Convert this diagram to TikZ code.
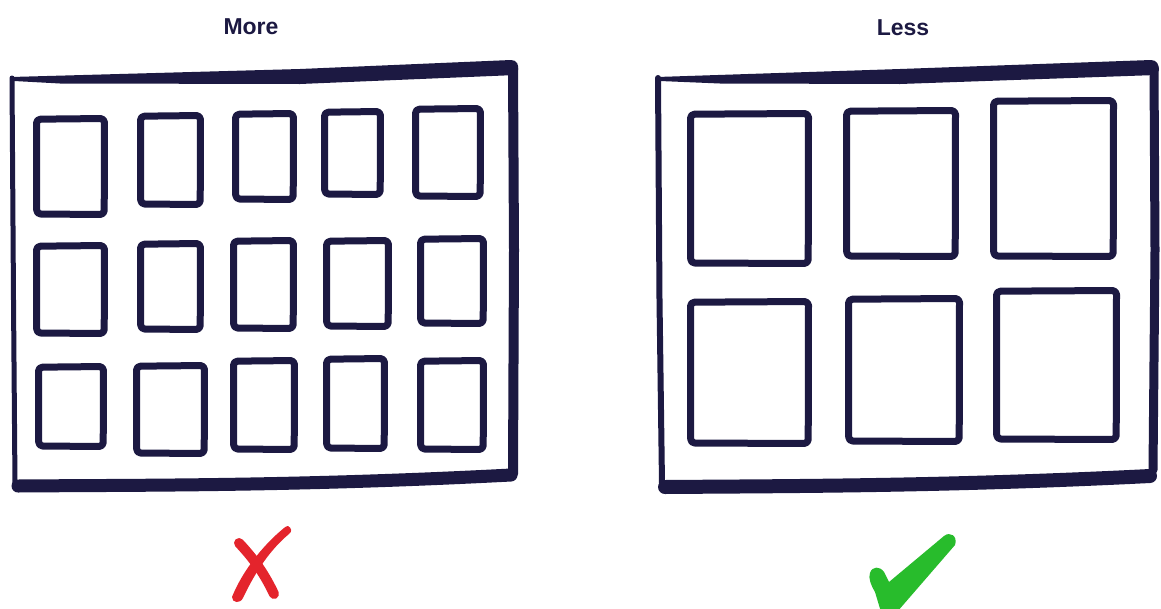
\documentclass[tikz,border=0pt]{standalone}
\usepackage{fontspec}
\setmainfont{Liberation Sans}
\definecolor{navy}{RGB}{28,25,66}
\definecolor{xred}{RGB}{228,36,44}
\definecolor{okgreen}{RGB}{40,188,44}
\newcommand{\skbox}[4]{\draw[boxline] ({#1+3.5},{#2+4.2}) -- ({#3-3.5},{#2+3.5}) -- ({#3-3.8},{#4-3.5}) -- ({#1+3.7},{#4-4}) -- cycle;}
\tikzset{
  boxline/.style={draw=navy, line width=7, rounded corners=4, line join=round},
  frameline/.style={draw=navy, line cap=round, line join=round},
  title/.style={font=\fontsize{23}{26}\selectfont\bfseries, text=navy, inner sep=0pt}
}
\begin{document}
\begin{tikzpicture}[x=1pt,y=-1pt]
\useasboundingbox[fill=white] (0,0) rectangle (1161,608);
\clip (0,0) rectangle (1161,608);

% titles
\node[title] (more) at (251,27) {More};
\node[title] (less) at (903,28) {Less};

% ---------- left frame ----------
\draw[frameline, line width=5] (12,78) -- (13.5,300) -- (15,486);
\fill[navy] (11,77) -- (300,69) -- (511,60) .. controls (517,60) and (519,65) .. (518,70) -- (516,75) -- (300,84) -- (60,83.5) -- (14,81) -- cycle;
\draw[frameline, line width=10] (513,68) -- (514,250) -- (513,474);
\draw[frameline, line width=13] (18,486) .. controls (150,485) and (300,486) .. (511,475);

\skbox{33}{115}{108}{218}
\skbox{137}{112}{204}{208}
\skbox{232}{110}{297}{203}
\skbox{321}{108}{384}{198}
\skbox{412}{105}{484}{200}

\skbox{33}{242}{108}{337}
\skbox{137}{240}{204}{333}
\skbox{230}{237}{297}{332}
\skbox{323}{237}{392}{330}
\skbox{417}{235}{487}{327}

\skbox{35}{363}{107}{450}
\skbox{133}{362}{208}{457}
\skbox{230}{357}{298}{453}
\skbox{323}{355}{388}{452}
\skbox{417}{357}{487}{453}

% ---------- right frame ----------
\draw[frameline, line width=6] (658,78) -- (659.5,300) -- (662,484);
\fill[navy] (657,77) -- (900,69) -- (1151,60) .. controls (1157,60) and (1159,65) .. (1159,70) -- (1156,75) -- (900,84) -- (720,83.5) -- (660,81) -- cycle;
\draw[frameline, line width=9] (1154,68) -- (1155,250) -- (1153,470);
\draw[frameline, line width=14] (665,487) .. controls (800,486) and (950,486) .. (1150,476);

\skbox{687}{110}{812}{267}
\skbox{843}{107}{959}{260}
\skbox{990}{97}{1117}{260}
\skbox{687}{298}{812}{447}
\skbox{845}{295}{963}{445}
\skbox{993}{287}{1120}{443}

% ---------- red cross ----------
\draw[xred, line width=10, line cap=round] (239,543) .. controls (255,560) and (265,575) .. (274,594);
\fill[xred] (288,526) .. controls (292,528) and (292,532) .. (289,534)
  .. controls (272,548) and (256,570) .. (243,598)
  .. controls (240,604) and (232,603) .. (232,597)
  .. controls (242,572) and (262,546) .. (284,528)
  .. controls (285,527) and (287,526) .. (288,526) -- cycle;

% ---------- green check ----------
\fill[okgreen] (870,573) .. controls (872,566) and (880,566) .. (884,572) -- (889,582)
  -- (944,536) .. controls (950,531) and (958,536) .. (955,545)
  -- (897,612) -- (881,612) -- (875,592)
  .. controls (871,585) and (868,578) .. (870,573) -- cycle;
\end{tikzpicture}
\end{document}
